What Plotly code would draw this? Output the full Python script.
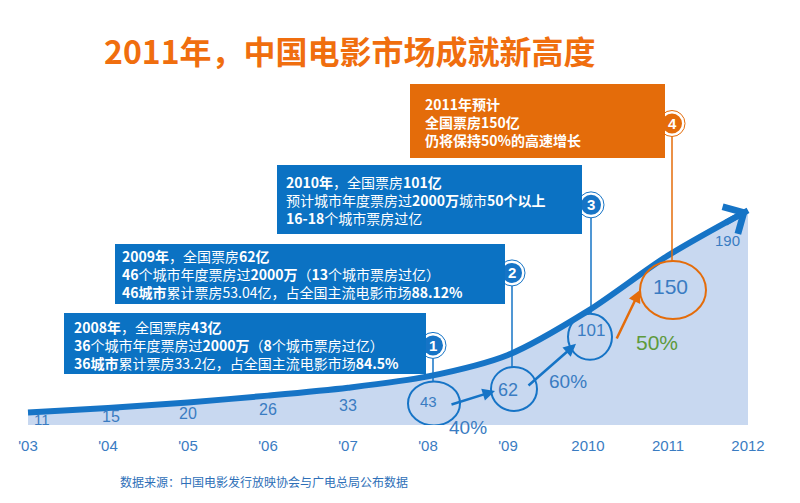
import plotly.graph_objects as go

# ---------------- data ----------------
years = [2003, 2004, 2005, 2006, 2007, 2008, 2009, 2010, 2011, 2012]
box_office = [11, 15, 20, 26, 33, 43, 62, 101, 150, 190]   # 全国票房（亿元）
tick_labels = ["'03", "'04", "'05", "'06", "'07", "'08", "'09", "2010", "2011", "2012"]
growth_labels = ["40%", "60%", "50%"]          # 2008→09, 2009→10, 2010→11
callout_numbers = ["1", "2", "3", "4"]         # for 2008, 2009, 2010, 2011

title_text = "2011年，中国电影市场成就新高度"
source_text = "数据来源：中国电影发行放映协会与广电总局公布数据"

box_2008 = ["<b>2008年</b>，全国票房<b>43亿</b>",
            "<b>36</b>个城市年度票房过<b>2000万</b>（<b>8</b>个城市票房过亿）",
            "<b>36城市</b>累计票房33.2亿，占全国主流电影市场<b>84.5%</b>"]
box_2009 = ["<b>2009年</b>，全国票房<b>62亿</b>",
            "<b>46</b>个城市年度票房过<b>2000万</b>（<b>13</b>个城市票房过亿）",
            "<b>46城市</b>累计票房53.04亿，占全国主流电影市场<b>88.12%</b>"]
box_2010 = ["<b>2010年</b>，全国票房<b>101亿</b>",
            "预计城市年度票房过<b>2000万</b>城市<b>50个以上</b>",
            "<b>16-18</b>个城市票房过亿"]
box_2011 = ["<b>2011年预计</b>",
            "<b>全国票房150亿</b>",
            "<b>仍将保持50%的高速增长</b>"]

# ---------------- styles ----------------
W, H = 800, 503
PLOT_BOTTOM = 425           # pixel row of the zero line
PX_PER_UNIT = 1.13
BLUE = "#0b72c3"
LINE_BLUE = "#1674c6"
TEXT_BLUE = "#3a7cc2"
FILL = "#c8d8f0"
ORANGE = "#e46c0a"
GREEN = "#5e9a3c"
CJK = "Noto Sans CJK SC"
LAT = "Liberation Sans"


def PX(px):
    return px / W


def PY(py):
    return (PLOT_BOTTOM - py) / PLOT_BOTTOM


fig = go.Figure()
fig.add_trace(go.Scatter(
    x=years, y=box_office, mode="lines",
    line=dict(color=LINE_BLUE, width=6, shape="spline", smoothing=0.8),
    fill="tozeroy", fillcolor=FILL, hoverinfo="skip", showlegend=False))

annotations = []
shapes = []

# arrow head at the end of the curve
annotations.append(dict(x=years[-1], y=box_office[-1], xref="x", yref="y",
                        ax=-24, ay=13.5, text="", showarrow=True,
                        arrowhead=4, arrowsize=1.0, arrowwidth=6,
                        arrowcolor=LINE_BLUE))

# value label styles: (dx, dy_down, font size)
label_style = [(14, 7, 15), (3, 8, 16), (0, 11, 16), (0, 14, 16), (0, 18, 16),
               (0, 25, 15), (0, 35, 18), (3, 20, 17), (2, 31, 21), (-21, 30, 15)]
for i, (yr, v) in enumerate(zip(years, box_office)):
    dx, dd, fs = label_style[i]
    annotations.append(dict(x=yr, y=v, xref="x", yref="y", xshift=dx, yshift=-dd,
                            text=str(v), showarrow=False,
                            font=dict(family=LAT, size=fs, color=TEXT_BLUE)))

# circles round values: index -> (dx, dy_down, rx, ry, color)
circle_style = {5: (6, 27, 26, 22, LINE_BLUE), 6: (6, 34, 23, 22, LINE_BLUE),
                7: (2, 26, 22, 23, LINE_BLUE), 8: (5, 34.5, 33, 29, ORANGE)}
# callout markers: index -> (dx, up)
marker_style = {5: (5, 31), 6: (4, 82), 7: (3, 106), 8: (4, 132)}

for k, (idx, (dx, dd, rx, ry, col)) in enumerate(circle_style.items()):
    yr, v = years[idx], box_office[idx]
    common = dict(xref="x", yref="y", xsizemode="pixel", ysizemode="pixel",
                  xanchor=yr, yanchor=v)
    shapes.append(dict(type="circle", x0=dx - rx, x1=dx + rx, y0=-dd - ry, y1=-dd + ry,
                       line=dict(color=col, width=2), **common))
    mdx, up = marker_style[idx]
    shapes.append(dict(type="line", x0=mdx, x1=mdx, y0=up, y1=-dd + ry,
                       line=dict(color=col, width=1.5), **common))
    shapes.append(dict(type="circle", x0=mdx - 13, x1=mdx + 13, y0=up - 13, y1=up + 13,
                       fillcolor="white", line=dict(color=col, width=1), **common))
    shapes.append(dict(type="circle", x0=mdx - 10, x1=mdx + 10, y0=up - 10, y1=up + 10,
                       fillcolor=col, line=dict(width=0), **common))
    annotations.append(dict(x=yr, y=v, xref="x", yref="y", xshift=mdx, yshift=up,
                            text="<b>%s</b>" % callout_numbers[k], showarrow=False,
                            font=dict(family=LAT, size=15, color="white")))

# growth arrows: (target index, xshift, yshift, ax, ay, color)
arrow_style = [(6, -13, -36, -45, 14, LINE_BLUE),
               (7, -12, -33, -49, 43, LINE_BLUE),
               (8, -28, -34.5, -24, 50, ORANGE)]
for tgt, xs, ys, ax, ay, col in arrow_style:
    annotations.append(dict(x=years[tgt], y=box_office[tgt], xref="x", yref="y",
                            xshift=xs, yshift=ys, ax=ax, ay=ay, text="",
                            showarrow=True, arrowhead=2, arrowsize=1,
                            arrowwidth=2.5, arrowcolor=col))

# growth labels: (xshift from mid-year, height above zero, size, color)
growth_style = [(0, -2, 19, TEXT_BLUE), (20, 44, 19, TEXT_BLUE), (29, 83, 21, GREEN)]
for j, lab in enumerate(growth_labels):
    xs, up, fs, col = growth_style[j]
    annotations.append(dict(x=(years[5 + j] + years[6 + j]) / 2, y=0, xref="x", yref="y",
                            xshift=xs, yshift=up, text=lab, showarrow=False,
                            font=dict(family=LAT, size=fs, color=col)))

# text boxes: (lines, rect px (x0, x1, y0, y1), text x, text centre row, fill)
boxes = [(box_2008, (64, 426, 313, 374), 72, 345, BLUE),
         (box_2009, (115, 505, 244, 304), 120, 273.5, BLUE),
         (box_2010, (277, 582, 165, 234), 284, 200, BLUE),
         (box_2011, (410, 665, 84, 158), 423, 122.5, ORANGE)]
for lines, (x0, x1, y0, y1), tx, row, col in boxes:
    shapes.append(dict(type="rect", xref="paper", yref="paper",
                       x0=PX(x0), x1=PX(x1), y0=PY(y1), y1=PY(y0),
                       fillcolor=col, line=dict(width=0)))
    annotations.append(dict(x=PX(tx), y=PY(row), xref="paper", yref="paper",
                            xanchor="left", yanchor="middle", align="left",
                            text="<br>".join(lines), showarrow=False,
                            font=dict(family=CJK, size=14, color="white")))

# title and source
annotations.append(dict(x=PX(350), y=PY(50), xref="paper", yref="paper",
                        xanchor="center", yanchor="middle",
                        text="<b>%s</b>" % title_text, showarrow=False,
                        font=dict(family=CJK, size=32, color="#f06e0e")))
annotations.append(dict(x=PX(118), y=PY(482), xref="paper", yref="paper",
                        xanchor="left", yanchor="middle", text=source_text,
                        showarrow=False,
                        font=dict(family=CJK, size=12, color="#2e6fb8")))

fig.update_layout(
    width=W, height=H, margin=dict(l=0, r=0, t=0, b=H - PLOT_BOTTOM),
    paper_bgcolor="white", plot_bgcolor="white",
    xaxis=dict(range=[2002.65, 2012.65], tickvals=years, ticktext=tick_labels,
               showgrid=False, zeroline=False, showline=False, ticks="",
               ticklabelstandoff=10,
               tickfont=dict(family=LAT, size=15, color=TEXT_BLUE), fixedrange=True),
    yaxis=dict(range=[0, PLOT_BOTTOM / PX_PER_UNIT], visible=False, fixedrange=True),
    annotations=annotations, shapes=shapes, showlegend=False)

fig.write_html("out.html", config={"displayModeBar": False},
               post_script="document.body.style.margin='0';"
                           "document.body.style.overflow='hidden';")
